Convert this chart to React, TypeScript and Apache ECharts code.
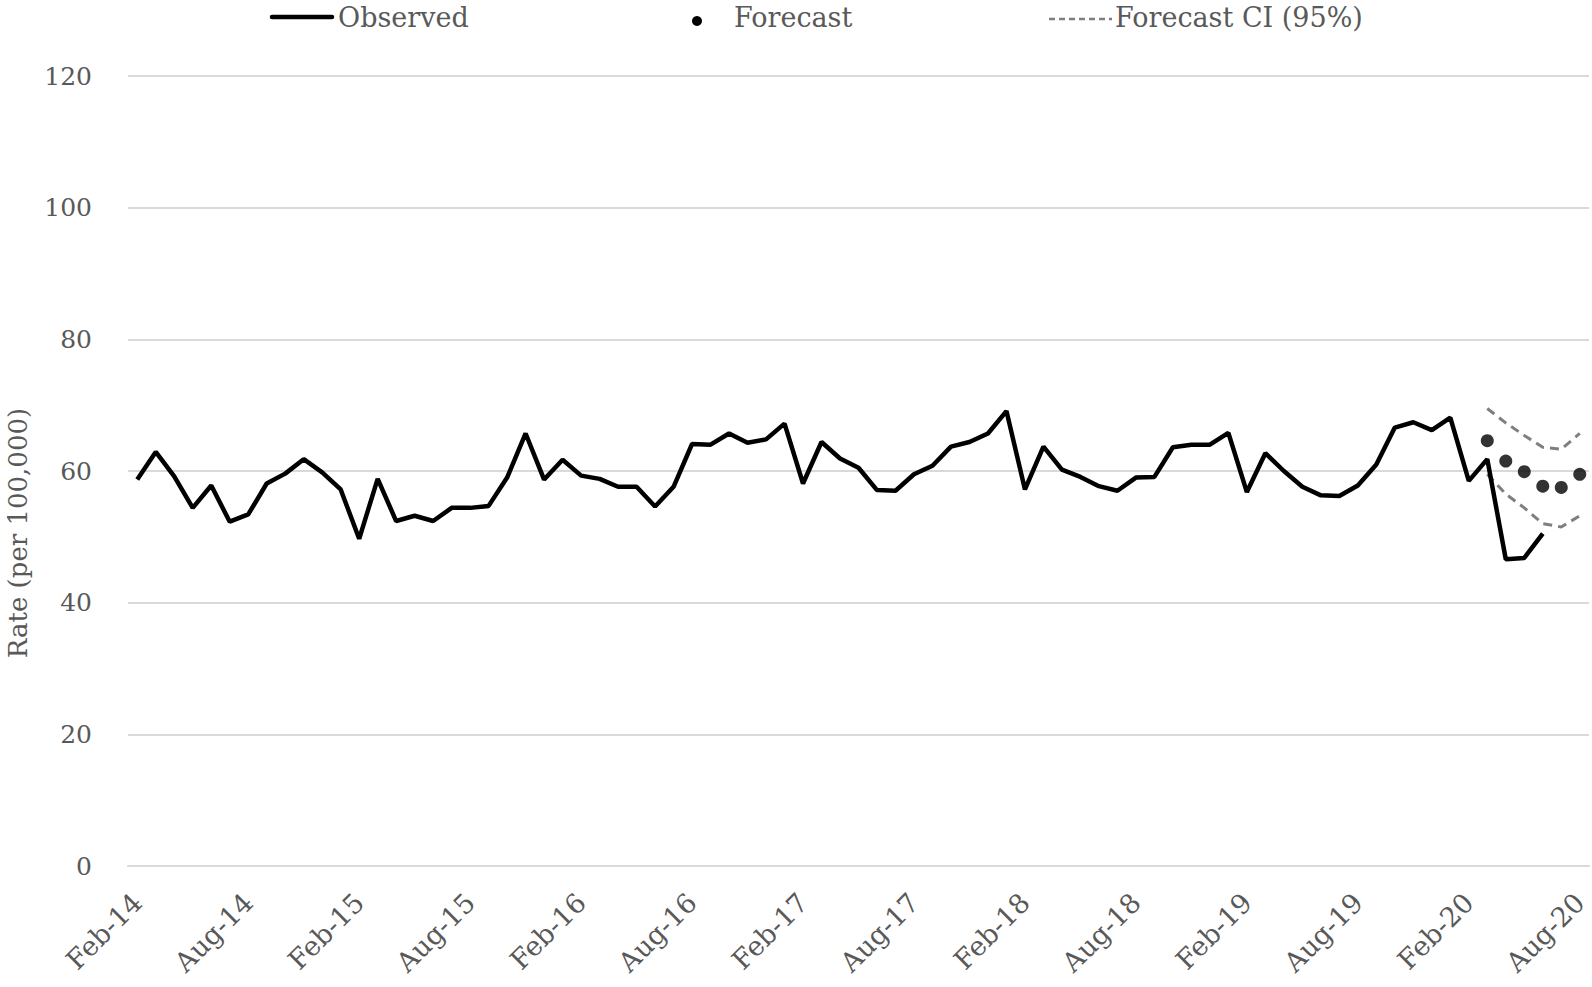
import React, { useEffect, useRef } from "react";
import * as echarts from "echarts";

const MONTHS = ["Jan", "Feb", "Mar", "Apr", "May", "Jun", "Jul", "Aug", "Sep", "Oct", "Nov", "Dec"];
const YEARS = ["14", "15", "16", "17", "18", "19", "20"];

// Feb-14 .. Aug-20
const categories: string[] = [];
YEARS.forEach((y, yi) => {
  MONTHS.forEach((m, mi) => {
    if (yi === 0 && mi < 1) return;
    if (y === "20" && mi > 7) return;
    categories.push(`${m}-${y}`);
  });
});

const observed: (number | null)[] = [
  58.7, 62.9, 59.2, 54.4, 57.8, 52.3, 53.4, 58.1, 59.6, 61.8, 59.8, 57.2,
  49.7, 58.8, 52.4, 53.2, 52.4, 54.4, 54.4, 54.7, 59.0, 65.7, 58.7, 61.7,
  59.3, 58.8, 57.6, 57.6, 54.6, 57.6, 64.1, 64.0, 65.7, 64.3, 64.8, 67.2,
  58.1, 64.4, 61.9, 60.5, 57.1, 57.0, 59.5, 60.8, 63.7, 64.4, 65.7, 69.1,
  57.2, 63.7, 60.2, 59.1, 57.7, 57.0, 59.0, 59.1, 63.6, 64.0, 64.0, 65.8,
  56.8, 62.7, 60.0, 57.6, 56.3, 56.2, 57.8, 61.0, 66.6, 67.4, 66.2, 68.1,
  58.5, 61.8, 46.6, 46.8, 50.5, null, null,
];

// Forecast period: Mar-20 .. Aug-20
const forecastMonths = ["Mar-20", "Apr-20", "May-20", "Jun-20", "Jul-20", "Aug-20"];
const forecast = [64.6, 61.5, 59.9, 57.7, 57.5, 59.5];
const ciUpper = [69.5, 67.3, 65.4, 63.6, 63.3, 65.7];
const ciLower = [59.5, 56.5, 54.4, 52.0, 51.5, 53.2];

const yTicks = { min: 0, max: 120, interval: 20 };

function alignToCategories(months: string[], vals: number[]): (number | null)[] {
  return categories.map((c) => {
    const idx = months.indexOf(c);
    return idx >= 0 ? vals[idx] : null;
  });
}

const FONT = "'DejaVu Serif', serif";
const TEXT = "#595959";

export default function App() {
  const ref = useRef<HTMLDivElement>(null);
  useEffect(() => {
    if (!ref.current) return;
    const chart = echarts.init(ref.current, null, { renderer: "svg" });
    chart.setOption({
      animation: false,
      backgroundColor: "#ffffff",
      grid: { left: 128, right: 3, top: 76, bottom: 121 },
      xAxis: {
        type: "category",
        data: categories,
        boundaryGap: true,
        axisLine: { show: true, lineStyle: { color: "#d9d9d9", width: 2 } },
        axisTick: { show: false },
        axisLabel: {
          interval: 5,
          rotate: 45,
          margin: 32,
          color: TEXT,
          fontFamily: FONT,
          fontSize: 27,
        },
        splitLine: { show: false },
      },
      yAxis: {
        type: "value",
        min: yTicks.min,
        max: yTicks.max,
        interval: yTicks.interval,
        axisLine: { show: false },
        axisTick: { show: false },
        axisLabel: {
          margin: 36,
          color: TEXT,
          fontFamily: FONT,
          fontSize: 25,
          padding: [0, 0, 6, 0],
        },
        splitLine: { lineStyle: { color: "#d9d9d9", width: 2 } },
      },
      series: [
        {
          name: "Observed",
          type: "line",
          data: observed,
          symbol: "none",
          lineStyle: { color: "#000000", width: 4.5 },
          itemStyle: { color: "#000000" },
          z: 3,
        },
        {
          name: "Forecast CI (95%)",
          type: "line",
          data: alignToCategories(forecastMonths, ciUpper),
          symbol: "none",
          lineStyle: { color: "#7f7f7f", width: 3, type: [9, 6] },
          z: 2,
        },
        {
          name: "Forecast CI (95%)",
          type: "line",
          data: alignToCategories(forecastMonths, ciLower),
          symbol: "none",
          lineStyle: { color: "#7f7f7f", width: 3, type: [9, 6] },
          z: 2,
        },
        {
          name: "Forecast",
          type: "scatter",
          data: alignToCategories(forecastMonths, forecast),
          symbol: "circle",
          symbolSize: 13,
          itemStyle: { color: "#000000" },
          z: 4,
        },
      ],
      graphic: [
        {
          type: "line",
          shape: { x1: 272, y1: 17, x2: 332, y2: 17 },
          style: { stroke: "#000000", lineWidth: 4.5, lineCap: "round" },
        },
        {
          type: "text",
          x: 338,
          y: 17,
          style: { text: "Observed", font: `27px ${FONT}`, fill: TEXT, verticalAlign: "middle", align: "left" },
        },
        {
          type: "circle",
          shape: { cx: 697, cy: 21, r: 5 },
          style: { fill: "#000000" },
        },
        {
          type: "text",
          x: 734,
          y: 17,
          style: { text: "Forecast", font: `27px ${FONT}`, fill: TEXT, verticalAlign: "middle", align: "left" },
        },
        {
          type: "line",
          shape: { x1: 1049, y1: 19, x2: 1112, y2: 19 },
          style: { stroke: "#7f7f7f", lineWidth: 2.5, lineDash: [6, 4] },
        },
        {
          type: "text",
          x: 1115,
          y: 17,
          style: { text: "Forecast CI (95%)", font: `27px ${FONT}`, fill: TEXT, verticalAlign: "middle", align: "left" },
        },
        {
          type: "text",
          x: 18,
          y: 533,
          rotation: Math.PI / 2,
          style: { text: "Rate (per 100,000)", font: `26px ${FONT}`, fill: TEXT, verticalAlign: "middle", align: "center" },
        },
      ],
    });
    return () => chart.dispose();
  }, []);
  return (
    <div
      ref={ref}
      style={{ position: "fixed", left: 0, top: 0, width: 1592, height: 987, background: "#fff" }}
    />
  );
}
